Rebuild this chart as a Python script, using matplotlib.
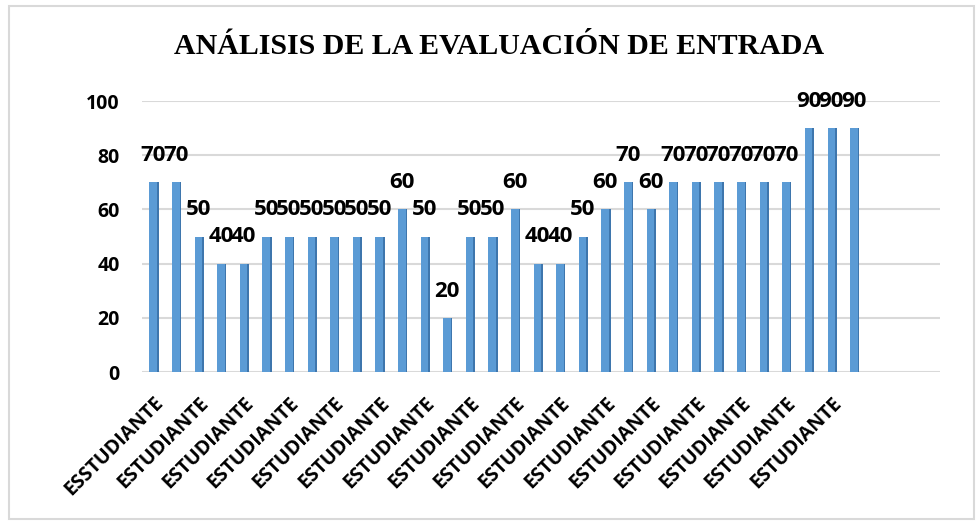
import matplotlib
matplotlib.use("Agg")
import matplotlib.pyplot as plt
from matplotlib.patches import Rectangle
import numpy as np

# datos de la evaluacion de entrada
estudiantes = ["ESSTUDIANTE"] + ["ESTUDIANTE"] * 31
notas = [70, 70, 50, 40, 40, 50, 50, 50, 50, 50, 50, 60, 50, 20, 50, 50,
         60, 40, 40, 50, 60, 70, 60, 70, 70, 70, 70, 70, 70, 90, 90, 90]
y_ticks = [0, 20, 40, 60, 80, 100]
titulo = "ANÁLISIS DE LA EVALUACIÓN DE ENTRADA"

bar_color = "#5B9BD5"
side_color = "#3E76AD"
grid_color = "#D9D9D9"
label_font = "Open Sans"

fig = plt.figure(figsize=(9.79, 5.24), dpi=100)
ax = fig.add_axes([0.145, 0.29, 0.815, 0.517])

x = np.arange(len(notas))
ax.bar(x, notas, width=0.34, color=bar_color, zorder=3)
# lado oscuro para el efecto 3D
ax.bar(x + 0.2, notas, width=0.07, color=side_color, zorder=3)

for xi, v in zip(x, notas):
    ax.text(xi, v + 6, str(v), ha="center", va="bottom", fontsize=16,
            fontweight="bold", family=label_font, color="black")

ax.set_ylim(0, 100)
ax.set_xlim(-0.5, 34.8)
ax.set_yticks(y_ticks)
ax.set_yticklabels([str(t) for t in y_ticks], fontsize=14, fontweight="bold",
                   family=label_font)
ax.set_xticks(x[::2])
ax.set_xticklabels(estudiantes[::2], rotation=45, ha="right",
                   rotation_mode="anchor", fontsize=14, fontweight="bold",
                   family=label_font)
ax.tick_params(axis="both", length=0)
ax.tick_params(axis="y", pad=16)
ax.tick_params(axis="x", pad=15)

ax.grid(axis="y", color=grid_color, linewidth=1.5, zorder=0)
for s in ax.spines.values():
    s.set_visible(False)

fig.text(0.51, 0.912, titulo, ha="center", va="center", fontsize=21.5,
         fontweight="bold", family="Liberation Serif")

# marco del grafico
fig.patches.append(Rectangle((0.009, 0.01), 0.986, 0.978, transform=fig.transFigure,
                             fill=False, edgecolor=grid_color, linewidth=1.5))

fig.savefig("out.png", dpi=100)
